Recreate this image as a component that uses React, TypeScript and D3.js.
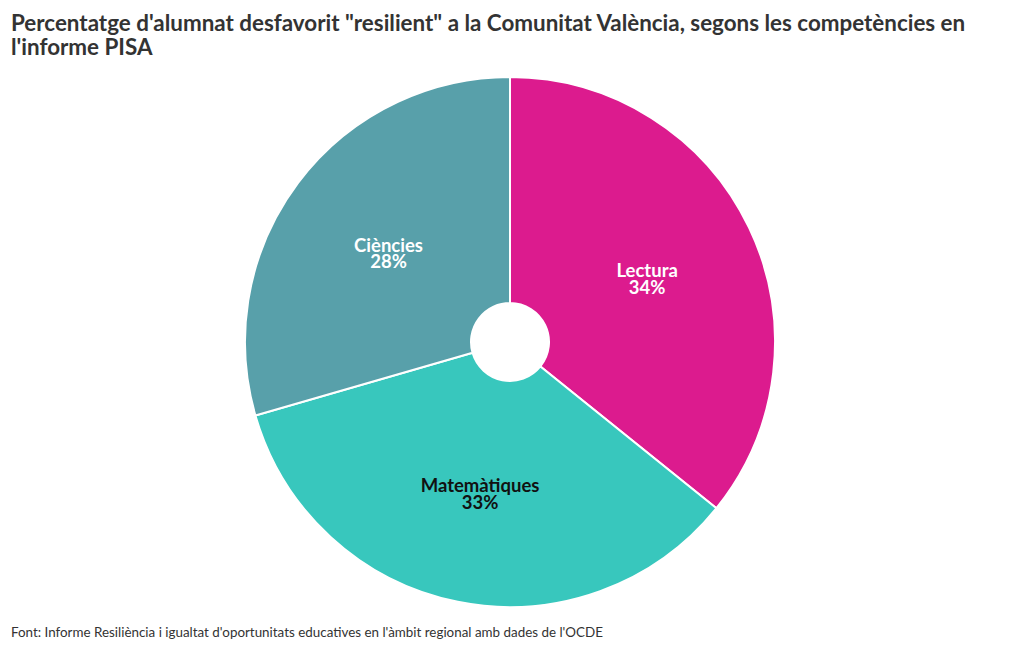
import React from 'react'
import { pie, arc, PieArcDatum } from 'd3'

const categories = ['Lectura', 'Matemàtiques', 'Ciències']
const values = [34, 33, 28]
const colors = ['#dc1b8e', '#38c7bd', '#58a0aa']
const labelColors = ['#ffffff', '#111111', '#ffffff']

const titleLines = [
  'Percentatge d\'alumnat desfavorit "resilient" a la Comunitat València, segons les competències en',
  "l'informe PISA",
]
const source = "Font: Informe Resiliència i igualtat d'oportunitats educatives en l'àmbit regional amb dades de l'OCDE"

type Row = { name: string; value: number; color: string; labelColor: string }

export default function App() {
  const width = 1020
  const height = 650
  const cx = 510
  const cy = 342
  const outerR = 265
  const innerR = 39
  const font = 'Lato, "Source Sans Pro", sans-serif'

  const rows: Row[] = categories.map((name, i) => ({
    name,
    value: values[i],
    color: colors[i],
    labelColor: labelColors[i],
  }))

  const arcs = pie<Row>().sort(null).value(d => d.value)(rows)
  const arcGen = arc<PieArcDatum<Row>>().innerRadius(innerR).outerRadius(outerR)

  return (
    <svg
      width={width}
      height={height}
      style={{ position: 'absolute', left: 0, top: 0, background: '#fff' }}
      fontFamily={font}
    >
      <g fill="#333" fontWeight="bold" fontSize={22.4}>
        {titleLines.map((t, i) => (
          <text key={i} x={11} y={31 + i * 24}>{t}</text>
        ))}
      </g>
      <g transform={`translate(${cx},${cy})`}>
        {arcs.map(a => (
          <path key={a.data.name} d={arcGen(a) || ''} fill={a.data.color} stroke="#fff" strokeWidth={2} />
        ))}
        {arcs.map(a => {
          const [x, y] = arcGen.centroid(a)
          return (
            <text
              key={'l' + a.data.name}
              x={x}
              y={y}
              textAnchor="middle"
              fill={a.data.labelColor}
              fontWeight="bold"
              fontSize={18.5}
            >
              <tspan x={x} dy={1}>{a.data.name}</tspan>
              <tspan x={x} dy={16.5}>{a.data.value}%</tspan>
            </text>
          )
        })}
      </g>
      <text x={11} y={637} fontSize={13.4} fill="#333">{source}</text>
    </svg>
  )
}
